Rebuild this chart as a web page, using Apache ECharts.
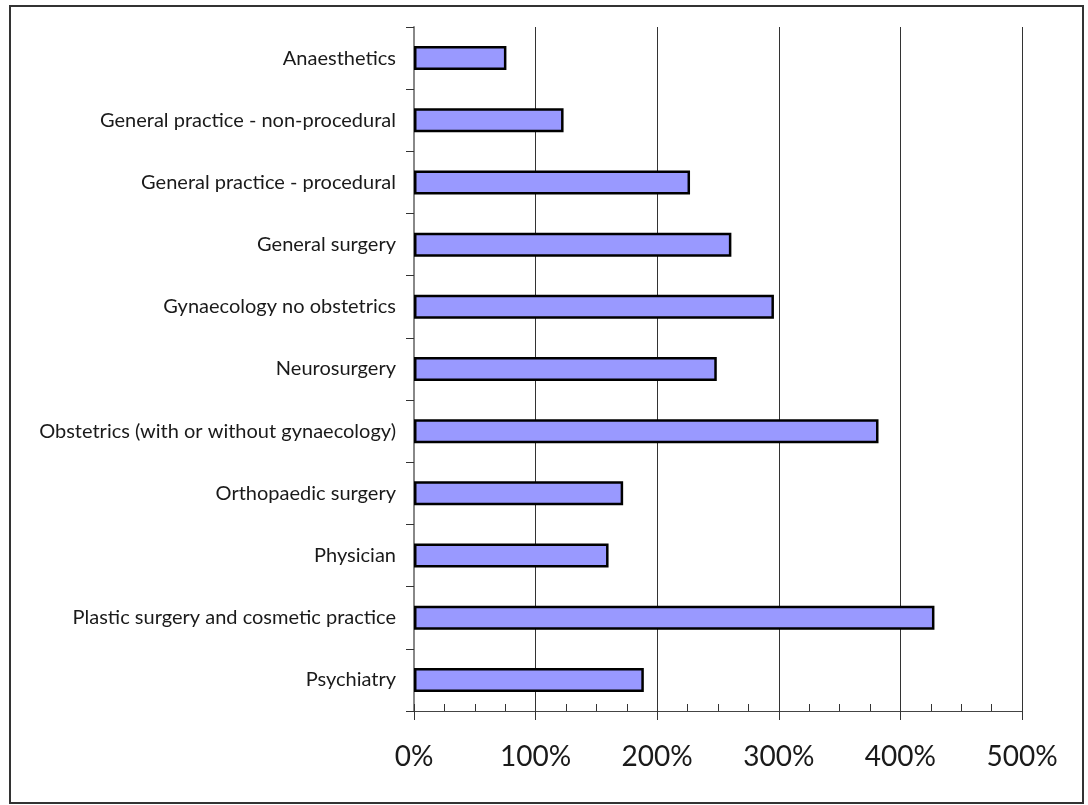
<!DOCTYPE html>
<html>
<head>
<meta charset="utf-8">
<script src="https://cdn.jsdelivr.net/npm/echarts@6/dist/echarts.min.js"></script>
<style>
  html, body { margin: 0; padding: 0; background: #fff; }
  #box { width: 1088px; height: 805px; }
</style>
</head>
<body>
<div id="box"></div>
<script>
// categories, top to bottom
const specialties = [
  'Anaesthetics',
  'General practice - non-procedural',
  'General practice - procedural',
  'General surgery',
  'Gynaecology no obstetrics',
  'Neurosurgery',
  'Obstetrics (with or without gynaecology)',
  'Orthopaedic surgery',
  'Physician',
  'Plastic surgery and cosmetic practice',
  'Psychiatry'
];
// percent values
const increase = [76, 123, 227, 261, 296, 249, 382, 172, 160, 428, 189];
const xTicks = [0, 100, 200, 300, 400, 500];

const chart = echarts.init(document.getElementById('box'));
const font = 'Lato, "Open Sans", sans-serif';

const option = {
  backgroundColor: '#fff',
  animation: false,
  graphic: [{
    type: 'rect',
    shape: { x: 10, y: 6, width: 1073, height: 797 },
    style: { fill: 'none', stroke: '#333', lineWidth: 2 },
    silent: true
  }],
  grid: { left: 414, right: 66, top: 27, bottom: 94 },
  xAxis: [
    {
      type: 'value',
      min: xTicks[0],
      max: xTicks[xTicks.length - 1],
      interval: 100,
      axisLine: { show: true, lineStyle: { color: '#444', width: 1 } },
      axisTick: { show: true, inside: true, length: 7, lineStyle: { color: '#333' } },
      minorTick: { show: true, splitNumber: 4, length: 7, lineStyle: { color: '#333' } },
      splitLine: { show: true, lineStyle: { color: '#333', width: 1 } },
      axisLabel: {
        margin: 32,
        fontFamily: font,
        fontSize: 28,
        color: '#1a1a1a',
        formatter: v => v + '%'
      }
    },
    {
      type: 'value',
      position: 'bottom',
      min: xTicks[0],
      max: xTicks[xTicks.length - 1],
      interval: 100,
      axisLine: { show: false },
      axisTick: { show: true, inside: false, length: 9, lineStyle: { color: '#333' } },
      splitLine: { show: false },
      axisLabel: { show: false }
    }
  ],
  yAxis: {
    type: 'category',
    inverse: true,
    data: specialties,
    axisLine: { show: true, lineStyle: { color: '#888', width: 2 } },
    axisTick: { show: true, length: 8, lineStyle: { color: '#333' } },
    axisLabel: {
      margin: 18,
      fontFamily: font,
      fontSize: 20,
      color: '#1a1a1a'
    }
  },
  series: [{
    type: 'bar',
    data: increase,
    barWidth: 24,
    itemStyle: { color: '#9999ff', borderColor: '#000', borderWidth: 2.5 }
  }]
};

chart.setOption(option);
</script>
</body>
</html>
